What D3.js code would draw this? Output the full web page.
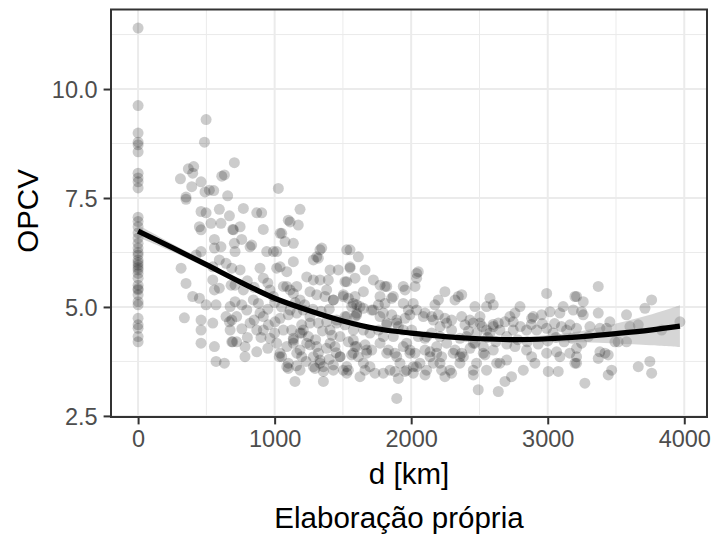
<!DOCTYPE html>
<html><head><meta charset="utf-8">
<script src="https://cdn.jsdelivr.net/npm/d3@7"></script>
<style>
html,body{margin:0;padding:0;background:#fff;}
svg{display:block;font-family:"Liberation Sans",Arial,Helvetica,sans-serif;}
</style></head>
<body><svg id="chart" width="713" height="536"></svg>
<script>
// ---- data ----
const xTicks = [0, 1000, 2000, 3000, 4000];
const yTicks = [2.5, 5.0, 7.5, 10.0];
const xLabel = "d [km]";
const yLabel = "OPCV";
const caption = "Elaboração própria";

// observations at d = 0 km
const opcvAtOrigin = [11.4, 9.62, 8.99, 8.78, 8.72, 8.56, 8.07, 7.96, 7.87, 7.73, 7.06, 6.96, 6.84, 6.70, 6.58, 6.46, 6.35, 6.25, 6.19, 6.08, 6.02, 5.96, 5.90, 5.85, 5.77, 5.66, 5.50, 5.42, 5.39, 5.28, 5.12, 5.05, 4.74, 4.59, 4.51, 4.32, 4.20];

// [d (km), OPCV] pairs, by distance band
const obsNear = [[498,9.30],[486,8.78],[705,8.31],[368,8.17],[407,8.22],[632,8.03],[613,8.00],[310,7.94],[400,8.07],[461,7.87],[393,7.76],[522,7.68],[490,7.64],[554,7.67],[656,7.55],[351,7.52],
[351,7.47],[461,7.19],[498,7.16],[595,7.24],[449,6.84],[461,6.77],[534,6.92],[607,6.92],[669,7.09],[693,6.78],[559,6.55],[559,6.35],[607,6.38],[461,6.27],[425,6.19],[315,5.89],[351,5.54],[400,5.24],[449,5.20],[547,5.62],[559,5.39],[595,5.43],[498,5.05],[571,5.05],[339,4.75],[461,4.70],[461,4.47],[461,4.17],[547,4.63],[644,4.78],[669,4.66],[559,4.09],[571,3.75],[632,3.71],[693,4.20],[681,5.50],[705,6.46],[644,6.00],[595,6.08],[547,5.92],[674,4.47],[686,4.20],[674,5.01],[698,6.77],[686,5.89],[710,6.27],[710,5.50],[710,5.12],[722,4.78],[686,4.70],[722,4.20]];

const obsMid1 = [[1027,7.72],[771,7.26],[869,7.16],[905,7.16],[1186,7.24],[1100,6.99],[1113,6.95],[1173,6.88],[917,6.78],[747,6.84],[1040,6.69],[1052,6.69],[759,6.55],[832,6.42],[820,6.38],[1076,6.50],[1137,6.46],[942,6.27],[991,6.27],[1015,6.27],[1345,6.35],[1320,6.12],[1332,6.31],[1308,6.15],[1284,6.08],[1528,6.31],[747,5.85],[893,5.89],[917,5.66],[1015,5.89],[1040,5.92],[1089,5.81],[1137,6.04],[1235,5.69],[1406,5.85],[1466,5.85],[1332,5.62],[1284,5.62],[1393,5.62],[1515,5.58],[1064,5.47],[1113,5.39],[1162,5.47],[771,5.39],[844,5.16],[881,5.08],[966,5.39],[991,5.24],[1259,5.35],[1308,5.28],[1369,5.24],[1430,5.16],[1503,5.28],[759,5.05],[796,4.93],[893,4.86],[917,4.78],[954,4.59],[1003,4.66],[1040,4.74],[1100,4.82],[1162,4.86],[1198,4.40],[1198,4.59],[1259,4.63],[1320,4.63],[1381,4.66],[1454,4.70],[1515,4.78],[820,4.63],[869,4.47],[783,4.09],[783,3.86],[869,3.97],[966,4.28],[1015,4.17],[1040,3.94],[1052,3.86],[1034,3.86],[1100,3.71],[1100,3.59],[1149,3.29],[1186,4.01],[1198,3.86],[1259,4.13],[1320,3.94],[1332,3.78],[1296,3.59],[1357,3.52],[1357,3.29],[1430,3.67],[1479,3.86],[1503,3.55],[1406,4.17],[1442,4.09],[1479,4.32],[1210,4.47],[1247,4.32],[1125,4.47],[1137,4.28],[1137,4.17],[1186,4.40],[917,4.47],
[800,5.60],[850,5.45],[950,5.55],[1000,5.10],[1050,5.00],[950,4.95],[850,4.70],[900,4.30],[1000,4.40],[760,4.50],[800,4.30],[950,4.05],[1150,5.10],[1220,5.05],[1280,4.95],[1340,4.90],[1400,4.95],[1350,4.45],[1420,4.35],[1300,4.25],[1380,4.05],[1450,3.95],[1230,3.75],[1160,3.65],[1400,3.80],
[1089,5.47],[1137,5.31],[1186,5.16],[1113,4.93],[1210,4.93],[1259,4.78],[1064,4.47],[1137,4.24],[1235,4.17],[1308,4.09],[1089,4.09],[1162,3.94],[1284,3.86],[1332,3.71],[1089,3.63],[1186,3.55],[1284,3.63],
[1381,5.39],[1430,5.16],[1503,5.24],[1454,4.63],[1406,4.47],[1479,3.86],[1430,3.55],[1357,3.63]];

const obsMid2 = [[1552,6.31],[1613,6.15],[1552,5.92],[1552,5.89],[1662,5.85],[2040,5.77],[2052,5.81],[2040,5.66],[1589,5.66],[1528,5.58],[1723,5.62],[1808,5.47],[1821,5.47],[1772,5.50],[1942,5.47],[1955,5.39],[2028,5.47],[2247,5.35],[2345,5.24],[2321,5.16],[1650,5.35],[1589,5.24],[1540,5.20],[1772,5.24],[1869,5.24],[1857,5.20],[1808,5.08],[1760,5.05],[2199,5.16],[2174,5.05],[1942,5.08],[2015,5.08],[1601,5.05],[1625,5.01],[1564,5.01],[1650,4.97],[1601,4.82],[1589,4.78],[1711,4.93],[1796,4.86],[1857,4.82],[1979,4.93],[1991,4.82],[1955,4.74],[2101,4.86],[2150,4.78],[2199,4.82],[2247,4.74],[2296,4.70],[2370,4.78],[1894,4.63],[1906,4.55],[1821,4.59],[1515,4.59],[1576,4.47],[1650,4.47],[1698,4.40],[1760,4.47],[1796,4.32],[2004,4.47],[2052,4.32],[2101,4.28],[2150,4.40],[2211,4.32],[2296,4.47],[2357,4.28],[1540,4.20],[1589,4.09],[1662,4.13],[1711,4.01],[1674,3.94],[1564,3.90],[1613,3.86],[1833,4.01],[1881,3.94],[1942,4.09],[1991,4.01],[2028,3.94],[2101,4.01],[2138,3.97],[2187,3.94],[2223,3.86],[2321,4.01],[2370,3.94],[1528,3.63],[1540,3.55],[1662,3.55],[1735,3.48],[1796,3.48],[1881,3.52],[1906,3.36],[1955,3.52],[2015,3.48],[2040,3.63],[2101,3.44],[2162,3.71],[2223,3.55],[2247,3.40],[2296,3.48],[1894,2.90],
[1576,5.08],[1601,4.86],[1528,4.78],[1576,4.24],[1601,4.09],[1576,3.94],[1674,4.01],[1650,3.71],[1698,3.63],[1528,3.48],[1625,3.40],
[1723,4.93],[1772,4.78],[1821,4.63],[1894,4.70],[1942,4.47],[1869,4.32],[1967,4.17],[1772,4.17],[1821,3.94],[1894,3.86],[1991,3.94],[1918,3.71],[1845,3.55],[1967,3.55],[2015,3.63],
[2040,4.93],[2089,4.78],[2162,4.70],[2211,4.55],[2260,4.63],[2113,4.32],[2187,4.09],[2260,4.17],[2308,3.94],[2138,3.86],[2211,3.71],[2284,3.55],[2357,3.86],[2064,3.71],[2113,3.55]];

const obsFar = [[2370,5.28],[2577,5.20],[2601,5.05],[2552,5.01],[2467,5.01],[2992,5.31],[2797,5.01],[2760,4.86],[2723,4.78],[2894,4.78],[2882,4.74],[3016,4.89],[2955,4.82],[3089,4.86],[3113,5.01],[3199,5.24],[3187,4.93],[2504,4.78],[2455,4.63],[2394,4.59],[2638,4.63],[2687,4.66],[2747,4.66],[3163,4.59],[3138,4.47],[3211,4.51],[2845,4.47],[2919,4.47],[2992,4.51],[3040,4.40],[2577,4.40],[2650,4.47],[2699,4.32],[2747,4.47],[2406,4.32],[2467,4.17],[2431,4.05],[2528,4.09],[2601,4.01],[2540,3.90],[2760,4.09],[2845,4.01],[2882,3.86],[2906,3.71],[2992,3.94],[3065,3.97],[3089,3.86],[3162,3.94],[2650,3.71],[2699,3.78],[2821,3.55],[2455,3.55],[2455,3.44],[2735,3.40],[2687,3.29],[2491,3.10],[2638,3.06],[3004,3.52],[3077,3.52],[3199,3.71],[2357,3.71],[2382,3.86],[3211,3.86],
[2430,4.70],[2504,4.63],[2552,4.47],[2601,4.55],[2455,4.17],[2528,3.94],[2479,3.71],[2552,3.55],[2626,3.71],
[2420,4.45],[2480,4.40],[2560,4.30],[2620,4.20],[2700,4.15],[2780,4.25],[2850,4.20],[2930,4.15],[3000,4.22],[3060,4.30],[3120,4.20],[3180,4.28],[2520,4.55],[2600,4.60],[2800,4.55],[2880,4.60],[2960,4.62],[3050,4.62],[3100,4.55],
[3370,5.47],[3211,5.24],[3260,5.12],[3248,4.89],[3260,4.82],[3761,5.16],[3712,4.97],[3370,4.86],[3455,4.66],[3577,4.82],[3968,4.66],[3309,4.55],[3382,4.51],[3431,4.51],[3602,4.55],[3663,4.59],[3834,4.47],[3297,4.32],[3248,4.17],[3211,4.05],[3492,4.20],[3516,4.20],[3577,4.20],[3382,3.97],[3419,3.94],[3370,3.82],[3443,3.90],[3211,3.71],[3468,3.55],[3443,3.44],[3663,3.63],[3748,3.75],[3761,3.48],[3272,3.25]];

// smoothed fit and its confidence band
const smoothD = [0, 250, 500, 750, 1000, 1250, 1500, 1750, 2000, 2250, 2500, 2750, 3000, 3250, 3500, 3750, 3968];
const smoothFit = [6.74, 6.36, 5.97, 5.57, 5.20, 4.92, 4.68, 4.50, 4.40, 4.32, 4.27, 4.25, 4.27, 4.32, 4.39, 4.47, 4.56];
const smoothLow = [6.60, 6.27, 5.90, 5.51, 5.15, 4.87, 4.63, 4.45, 4.35, 4.27, 4.22, 4.19, 4.19, 4.19, 4.16, 4.12, 4.08];
const smoothHigh = [6.88, 6.45, 6.04, 5.63, 5.25, 4.97, 4.73, 4.55, 4.45, 4.37, 4.32, 4.31, 4.35, 4.45, 4.62, 4.82, 5.04];

// ---- build ----
const points = [].concat(
  opcvAtOrigin.map(v => ({d: 0, v})),
  obsNear.map(([d, v]) => ({d, v})),
  obsMid1.map(([d, v]) => ({d, v})),
  obsMid2.map(([d, v]) => ({d, v})),
  obsFar.map(([d, v]) => ({d, v}))
);

const P = {left: 111, right: 707, top: 9.5, bottom: 417};
const svg = d3.select("#chart");
const FONT = '"Liberation Sans", Arial, Helvetica, sans-serif';

const dExt = d3.extent(points, p => p.d), vExt = d3.extent(points, p => p.v);
const dPad = (dExt[1] - dExt[0]) * 0.05, vPad = (vExt[1] - vExt[0]) * 0.05;
const x = d3.scaleLinear().domain([dExt[0] - dPad, dExt[1] + dPad]).range([P.left, P.right]);
const y = d3.scaleLinear().domain([vExt[0] - vPad, vExt[1] + vPad]).range([P.bottom, P.top]);

// grid
const g = svg.append("g");
const xMinor = xTicks.slice(0, -1).map((t, i) => (t + xTicks[i + 1]) / 2);
const yMinor = yTicks.map(t => t + 1.25).filter(t => t < y.domain()[1]);
g.selectAll(".xmin").data(xMinor).join("line")
  .attr("x1", d => x(d)).attr("x2", d => x(d)).attr("y1", P.top).attr("y2", P.bottom)
  .attr("stroke", "#ebebeb").attr("stroke-width", 1);
g.selectAll(".ymin").data(yMinor).join("line")
  .attr("y1", d => y(d)).attr("y2", d => y(d)).attr("x1", P.left).attr("x2", P.right)
  .attr("stroke", "#ebebeb").attr("stroke-width", 1);
g.selectAll(".xmaj").data(xTicks).join("line")
  .attr("x1", d => x(d)).attr("x2", d => x(d)).attr("y1", P.top).attr("y2", P.bottom)
  .attr("stroke", "#ebebeb").attr("stroke-width", 2);
g.selectAll(".ymaj").data(yTicks).join("line")
  .attr("y1", d => y(d)).attr("y2", d => y(d)).attr("x1", P.left).attr("x2", P.right)
  .attr("stroke", "#ebebeb").attr("stroke-width", 2);

// points
svg.append("g").selectAll("circle").data(points).join("circle")
  .attr("cx", p => x(p.d)).attr("cy", p => y(p.v)).attr("r", 5.5)
  .attr("fill", "#000").attr("fill-opacity", 0.2);

// confidence band + fit
const band = smoothD.map((d, i) => ({d, lo: smoothLow[i], hi: smoothHigh[i], f: smoothFit[i]}));
svg.append("path").datum(band)
  .attr("d", d3.area().curve(d3.curveCatmullRom).x(b => x(b.d)).y0(b => y(b.lo)).y1(b => y(b.hi)))
  .attr("fill", "#999999").attr("fill-opacity", 0.4);
svg.append("path").datum(band)
  .attr("d", d3.line().curve(d3.curveCatmullRom).x(b => x(b.d)).y(b => y(b.f)))
  .attr("fill", "none").attr("stroke", "#000").attr("stroke-width", 5.2).attr("stroke-linecap", "butt");

// panel border
svg.append("rect").attr("x", P.left).attr("y", P.top)
  .attr("width", P.right - P.left).attr("height", P.bottom - P.top)
  .attr("fill", "none").attr("stroke", "#333333").attr("stroke-width", 2);

// axes
const xAxis = d3.axisBottom(x).tickValues(xTicks).tickFormat(d3.format("d")).tickSize(7.4).tickPadding(6);
const yAxis = d3.axisLeft(y).tickValues(yTicks).tickFormat(d3.format(".1f")).tickSize(7.4).tickPadding(6);
const gx = svg.append("g").attr("transform", `translate(0,${P.bottom})`).call(xAxis);
const gy = svg.append("g").attr("transform", `translate(${P.left},0)`).call(yAxis);
[gx, gy].forEach(a => {
  a.select(".domain").remove();
  a.selectAll(".tick line").attr("stroke", "#333333").attr("stroke-width", 2);
  a.selectAll(".tick text").attr("fill", "#4d4d4d").style("font-size", "23.5px").style("font-family", FONT);
});
gx.selectAll(".tick text").attr("dy", null).attr("y", 30);
gy.selectAll(".tick text").attr("dy", "0.36em");

// titles
svg.append("text").attr("x", (P.left + P.right) / 2).attr("y", 484)
  .attr("text-anchor", "middle").style("font-size", "29.5px").style("font-family", FONT).attr("fill", "#000").text(xLabel);
svg.append("text").attr("transform", `translate(38,211) rotate(-90)`)
  .attr("text-anchor", "middle").style("font-size", "29.5px").style("font-family", FONT).attr("fill", "#000").text(yLabel);
svg.append("text").attr("x", 399).attr("y", 528)
  .attr("text-anchor", "middle").style("font-size", "29.5px").style("font-family", FONT).attr("fill", "#000").text(caption);
</script></body></html>
